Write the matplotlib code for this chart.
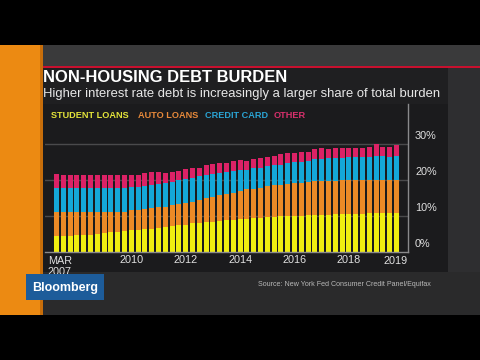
import matplotlib
matplotlib.use("Agg")
import matplotlib.pyplot as plt
from matplotlib.patches import Rectangle
import numpy as np

# ---- data (percent of income, quarterly, Mar 2007 onward) ----
student = [4.4, 4.4, 4.4, 4.6, 4.7, 4.7, 4.9, 5.3, 5.6, 5.6, 5.8, 6.0, 6.1, 6.3, 6.4, 6.6, 6.9,
           7.1, 7.4, 7.6, 8.0, 8.1, 8.3, 8.4, 8.7, 8.9, 9.0, 9.2, 9.3, 9.4, 9.5, 9.6, 9.8, 9.9,
           10.0, 10.1, 10.1, 10.2, 10.3, 10.4, 10.4, 10.5, 10.5, 10.6, 10.6, 10.6, 10.7, 10.8,
           10.8, 10.7, 10.8]
auto = [6.8, 6.8, 6.8, 6.6, 6.5, 6.5, 6.3, 5.9, 5.6, 5.6, 5.4, 5.6, 5.7, 5.6, 5.7, 5.9, 5.7,
        6.0, 6.0, 6.0, 6.0, 6.4, 6.6, 6.9, 7.0, 7.2, 7.5, 7.8, 8.1, 8.2, 8.4, 8.6, 8.7, 8.8,
        9.0, 9.1, 9.2, 9.2, 9.3, 9.3, 9.3, 9.3, 9.4, 9.4, 9.4, 9.4, 9.3, 9.3, 9.3, 9.3, 9.3]
credit = [6.6, 6.6, 6.6, 6.6, 6.6, 6.6, 6.6, 6.6, 6.6, 6.6, 6.6, 6.5, 6.3, 6.3, 6.5, 6.5, 6.5,
          6.4, 6.5, 6.7, 6.6, 6.5, 6.5, 6.4, 6.3, 6.2, 6.1, 5.8, 5.4, 5.6, 5.5, 5.6, 5.7, 5.6,
          5.6, 5.7, 5.8, 6.0, 6.2, 6.2, 6.3, 6.3, 6.3, 6.3, 6.3, 6.4, 6.5, 6.5, 6.5, 6.5, 6.5]
other = [3.8, 3.5, 3.5, 3.5, 3.5, 3.5, 3.7, 3.7, 3.7, 3.7, 3.7, 3.4, 3.3, 3.7, 3.6, 3.1, 2.9,
         2.7, 2.7, 2.7, 2.6, 2.2, 2.7, 2.7, 2.6, 2.5, 2.6, 2.7, 2.6, 2.7, 2.7, 2.7, 2.4, 2.9,
         2.9, 2.7, 2.7, 2.4, 2.7, 2.9, 2.7, 2.8, 2.6, 2.7, 2.6, 2.5, 2.6, 3.3, 2.7, 2.8, 3.1]
series_names = ["STUDENT LOANS", "AUTO LOANS", "CREDIT CARD", "OTHER"]
year_ticks = [11, 19, 27, 35, 43]
year_labels = ["2010", "2012", "2014", "2016", "2018"]
y_ticks = [0, 10, 20, 30]
y_labels = ["0%", "10%", "20%", "30%"]

bar_colors = ["#f0ee10", "#ec8a26", "#14a8d8", "#dc2266"]
text_colors = ["#e4e43a", "#e8893a", "#2aa4d4", "#d8306c"]

W, H = 480, 360
fig = plt.figure(figsize=(4.8, 3.6), dpi=100)
fig.patch.set_facecolor("#000000")

def rect(x0, y0, x1, y1, color, z=0):
    fig.add_artist(Rectangle((x0 / W, 1 - y1 / H), (x1 - x0) / W, (y1 - y0) / H,
                             transform=fig.transFigure, facecolor=color,
                             edgecolor="none", zorder=z))

def ftext(x, y, s, **kw):
    fig.text(x / W, 1 - y / H, s, **kw)

# backgrounds
rect(0, 45, 480, 315, "#2a2a2b", z=0)
rect(42, 45, 480, 66, "#3a3a3b", z=0.1)
rect(0, 45, 40, 315, "#ec8a12", z=0.2)
rect(40, 45, 43, 315, "#c86e0a", z=0.2)
rect(43, 66, 480, 68, "#c8102e", z=0.3)
rect(43, 68, 448, 104, "#1f1f21", z=0.2)
rect(43, 104, 448, 272, "#1b1b1d", z=0.2)
rect(448, 68, 480, 272, "#2e2e30", z=0.2)

# title
ftext(43, 78, "NON-HOUSING DEBT BURDEN", color="white", fontsize=11.9,
      fontweight="bold", family="Liberation Sans", va="center", ha="left", zorder=5)
ftext(43, 94, "Higher interest rate debt is increasingly a larger share of total burden",
      color="#e8e8e8", fontsize=9.35, family="Liberation Sans", va="center", ha="left", zorder=5)

# legend
leg_x = [51, 138, 205, 274]
for name, col, x in zip(series_names, text_colors, leg_x):
    ftext(x, 116, name, color=col, fontsize=6.6, fontweight="bold",
          family="Liberation Sans", va="center", ha="left", zorder=5)

# axes
ax = fig.add_axes([45 / W, 1 - 252 / H, (408 - 45) / W, (252 - 104) / H])
ax.set_facecolor("none")
ax.set_zorder(3)
x = np.arange(len(student))
bottoms = np.zeros(len(x))
for vals, col in zip([student, auto, credit, other], bar_colors):
    ax.bar(x, vals, bottom=bottoms, width=0.74, color=col, linewidth=0, zorder=2)
    bottoms = bottoms + np.array(vals)

ax.set_xlim(-1.69, 51.69)
ax.set_ylim(0, (252 - 104) / 3.6)
for yv in [10, 20, 30]:
    ax.axhline(yv, color="#4a4a4c", lw=1.0, zorder=1)
for s in ["top", "left"]:
    ax.spines[s].set_visible(False)
ax.spines["bottom"].set_color("#8a8a8c")
ax.spines["right"].set_color("#8a8a8c")
ax.spines["bottom"].set_linewidth(1.0)
ax.spines["right"].set_linewidth(1.0)

ax.set_yticks([])
for yv, lab in zip(y_ticks, y_labels):
    ax.text(1.0 + 7 / (408 - 45), yv + 2.3, lab, transform=ax.get_yaxis_transform(),
            color="#e0e0e0", fontsize=7.8, family="Liberation Sans", va="center", ha="left")

ax.set_xticks(year_ticks)
ax.set_xticklabels(year_labels)
ax.tick_params(axis="x", length=0, pad=2.0, colors="#e0e0e0", labelsize=7.8)
for t in ax.get_xticklabels():
    t.set_family("Liberation Sans")
ax.text(0.008, -0.03, "MAR\n2007", transform=ax.transAxes, color="#e0e0e0", fontsize=7.8,
        family="Liberation Sans", va="top", ha="left", linespacing=1.05)
ax.text(1.0, -0.03, "2019", transform=ax.transAxes, color="#e0e0e0", fontsize=7.8,
        family="Liberation Sans", va="top", ha="right")

# Bloomberg logo
rect(26, 274, 104, 300, "#1d5c9a", z=4)
ftext(65, 287.5, "Bloomberg", color="white", fontsize=9.0, fontweight="bold",
      family="Liberation Sans", va="center", ha="center", zorder=5)

# source
ftext(431, 284, "Source: New York Fed Consumer Credit Panel/Equifax", color="#b8b8b8",
      fontsize=5.15, family="Liberation Sans", va="center", ha="right", zorder=5)

fig.savefig("out.png", dpi=100, facecolor=fig.get_facecolor())
